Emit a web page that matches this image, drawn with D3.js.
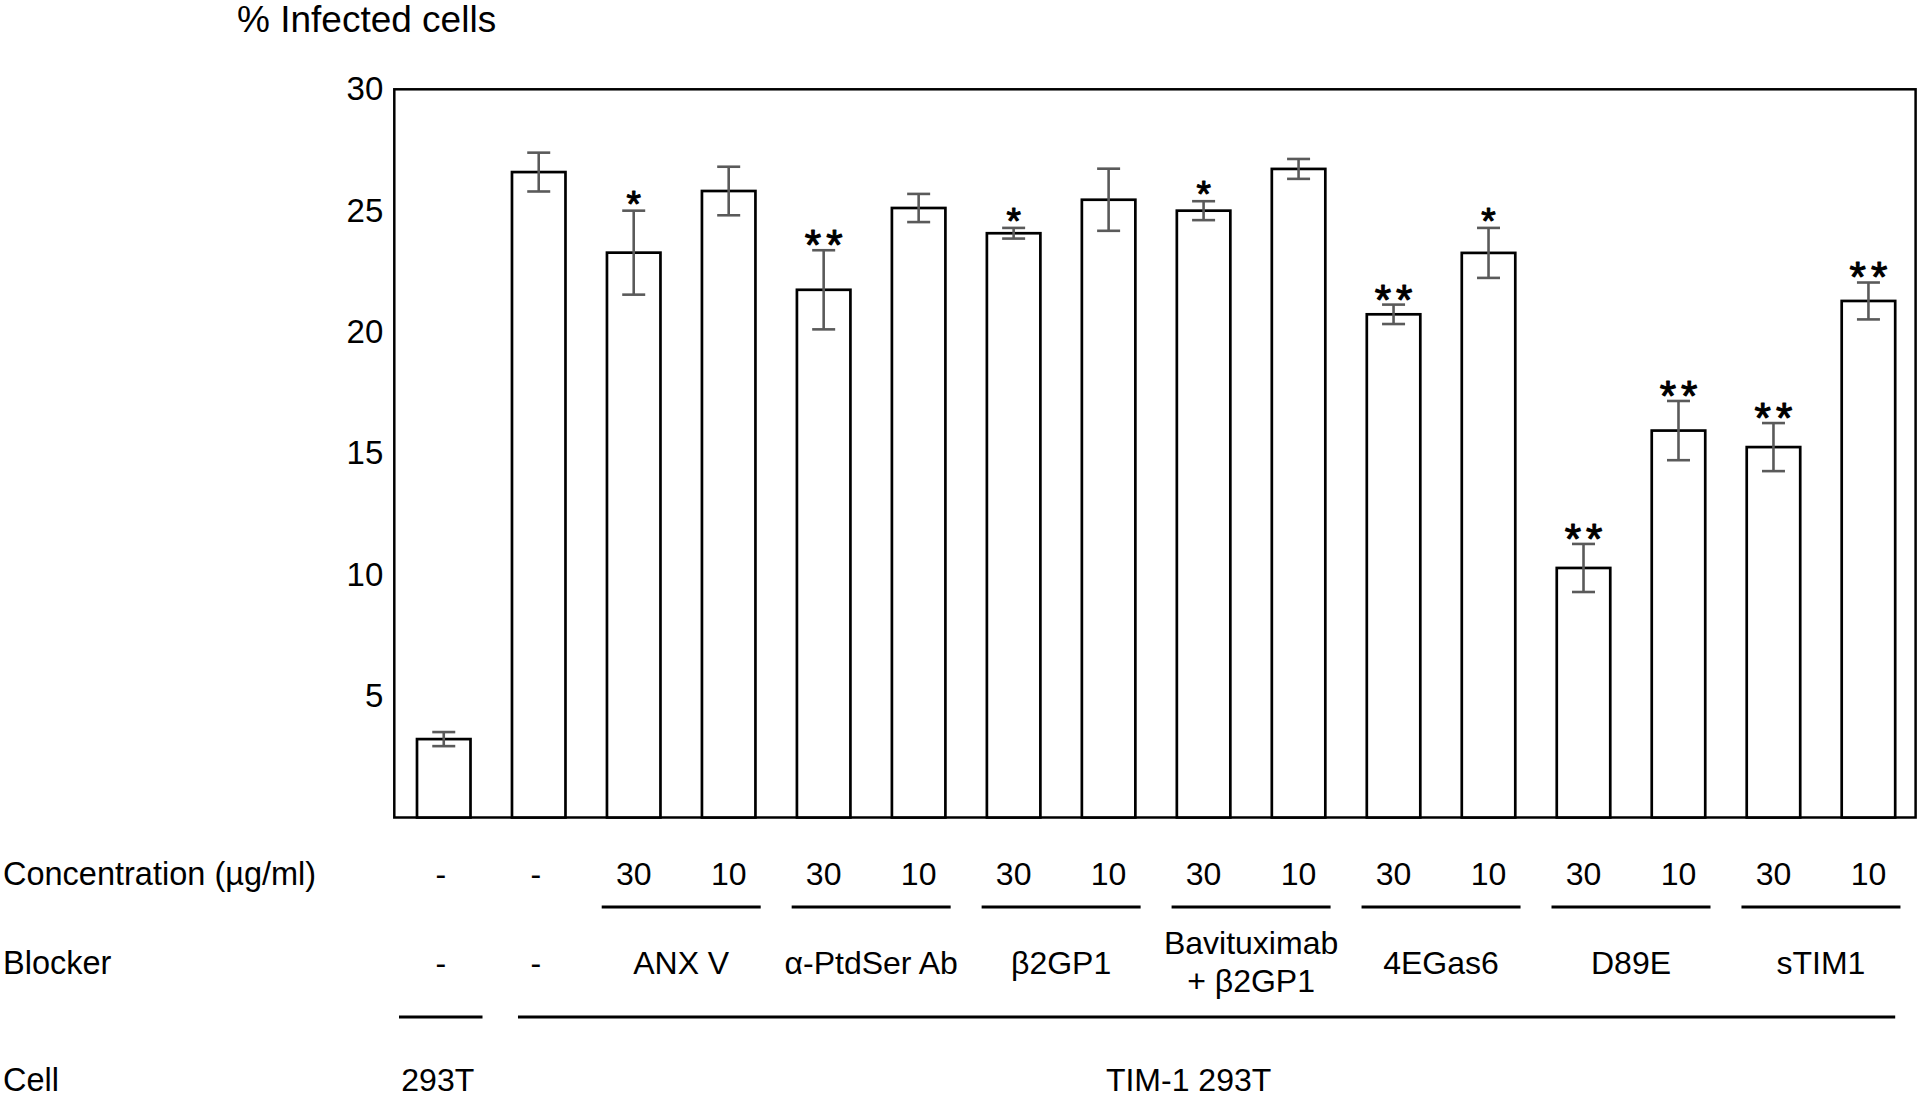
<!DOCTYPE html>
<html>
<head>
<meta charset="utf-8">
<script src="https://cdn.jsdelivr.net/npm/d3@7"></script>
<style>
  html, body { margin: 0; padding: 0; background: #fff; }
  svg { display: block; font-family: "Liberation Sans", Arial, Helvetica, sans-serif; }
</style>
</head>
<body>
<script>
// ---- data ----
const barIds = d3.range(16);
const cellLines = ["293T", "TIM-1 293T", "TIM-1 293T", "TIM-1 293T", "TIM-1 293T", "TIM-1 293T", "TIM-1 293T", "TIM-1 293T",
                   "TIM-1 293T", "TIM-1 293T", "TIM-1 293T", "TIM-1 293T", "TIM-1 293T", "TIM-1 293T", "TIM-1 293T", "TIM-1 293T"];
const blockers = ["-", "-", "ANX V", "ANX V", "α-PtdSer Ab", "α-PtdSer Ab", "β2GP1", "β2GP1",
                  "Bavituximab\n+ β2GP1", "Bavituximab\n+ β2GP1", "4EGas6", "4EGas6", "D89E", "D89E", "sTIM1", "sTIM1"];
const concentrations = ["-", "-", "30", "10", "30", "10", "30", "10", "30", "10", "30", "10", "30", "10", "30", "10"];
const infected = [3.23, 26.59, 23.27, 25.81, 21.74, 25.11, 24.07, 25.45, 25.00, 26.72, 20.73, 23.26, 10.28, 15.94, 15.26, 21.28];
const errors   = [0.29, 0.80, 1.73, 1.00, 1.63, 0.58, 0.22, 1.28, 0.39, 0.41, 0.40, 1.03, 0.99, 1.22, 0.99, 0.76];
const significance = ["", "", "*", "", "**", "", "*", "", "*", "", "**", "*", "**", "**", "**", "**"];
const yTicks = [5, 10, 15, 20, 25, 30];
const yTitle = "% Infected cells";
const rowTitles = ["Concentration (µg/ml)", "Blocker", "Cell"];

// ---- layout ----
const W = 1920, H = 1098;
const frame = { left: 394.3, right: 1915.6 };
const svg = d3.select("body").append("svg").attr("width", W).attr("height", H);

const x = d3.scaleBand().domain(barIds).range([417, 1895.2]).paddingInner(0.4367);
const y = d3.scaleLinear().domain([0, 30]).range([817.5, 89.3]);
const cx = i => x(i) + x.bandwidth() / 2;

// title
svg.append("text").attr("x", 237).attr("y", 32).attr("font-size", 37).attr("fill", "#000").text(yTitle);

// frame
svg.append("rect")
  .attr("x", frame.left).attr("y", y(30))
  .attr("width", frame.right - frame.left).attr("height", y(0) - y(30))
  .attr("fill", "none").attr("stroke", "#000").attr("stroke-width", 2.5);

// y axis labels
const yAxis = svg.append("g").attr("transform", `translate(${frame.left},0)`)
  .call(d3.axisLeft(y).tickValues(yTicks).tickSize(0).tickPadding(11));
yAxis.select(".domain").remove();
yAxis.selectAll("text").attr("font-size", 33).attr("font-family", null).attr("fill", "#000");

// bars
svg.append("g").selectAll("rect").data(barIds).join("rect")
  .attr("x", i => x(i)).attr("y", i => y(infected[i]))
  .attr("width", x.bandwidth()).attr("height", i => y(0) - y(infected[i]))
  .attr("fill", "#fff").attr("stroke", "#000").attr("stroke-width", 2.7);

// error bars
const eb = svg.append("g").attr("stroke", "#5a5a5a").attr("stroke-width", 2.6);
barIds.forEach(i => {
  const top = y(infected[i] + errors[i]), bot = y(infected[i] - errors[i]), c = cx(i), hw = 11.5;
  eb.append("line").attr("x1", c).attr("x2", c).attr("y1", top).attr("y2", bot);
  eb.append("line").attr("x1", c - hw).attr("x2", c + hw).attr("y1", top).attr("y2", top);
  eb.append("line").attr("x1", c - hw).attr("x2", c + hw).attr("y1", bot).attr("y2", bot);
});

// significance stars
barIds.forEach(i => {
  const s = significance[i];
  if (!s) return;
  const top = y(infected[i] + errors[i]);
  const fs = s.length === 2 ? 42 : 37;
  const ls = s.length === 2 ? 5 : 0;
  svg.append("text")
    .attr("x", cx(i) + ls / 2).attr("y", top - 15 + 0.57 * fs)
    .attr("text-anchor", "middle").attr("font-size", fs)
    .attr("letter-spacing", ls).attr("fill", "#000")
    .attr("stroke", "#000").attr("stroke-width", 1.1).attr("stroke-linejoin", "round")
    .text(s);
});

// row titles
const rowBase = [885, 974, 1091];
rowTitles.forEach((t, k) => {
  svg.append("text").attr("x", 3).attr("y", rowBase[k]).attr("font-size", 32.5).attr("fill", "#000").text(t);
});

// concentration labels
svg.append("g").selectAll("text").data(barIds).join("text")
  .attr("x", i => cx(i) - (concentrations[i] === "-" ? 3 : 0)).attr("y", rowBase[0])
  .attr("text-anchor", "middle").attr("font-size", 32).attr("fill", "#000")
  .text(i => concentrations[i]);

// blocker groups
function groupsOf(arr, skipDash) {
  const gs = [];
  arr.forEach((v, i) => {
    const last = gs[gs.length - 1];
    if (last && last.label === v && !(skipDash && v === "-")) last.end = i;
    else gs.push({ label: v, start: i, end: i });
  });
  return gs;
}
const blockerGroups = groupsOf(blockers, true);
blockerGroups.forEach(g => {
  const mid = (cx(g.start) + cx(g.end)) / 2;
  if (g.label === "-") {
    svg.append("text").attr("x", mid - 3).attr("y", rowBase[1]).attr("text-anchor", "middle")
      .attr("font-size", 32).attr("fill", "#000").text("-");
    return;
  }
  // underline for concentration pair
  svg.append("line").attr("x1", mid - 79.5).attr("x2", mid + 79.5).attr("y1", 907).attr("y2", 907)
    .attr("stroke", "#000").attr("stroke-width", 3);
  const lines = g.label.split("\n");
  const t = svg.append("text").attr("text-anchor", "middle").attr("font-size", 32).attr("fill", "#000");
  if (lines.length === 1) {
    t.attr("x", mid).attr("y", rowBase[1]).text(lines[0]);
  } else {
    lines.forEach((ln, k) => {
      t.append("tspan").attr("x", mid).attr("y", 954.3 + k * 37.4).text(ln);
    });
  }
});

// cell groups
const cellGroups = groupsOf(cellLines, false);
cellGroups.forEach((g, k) => {
  const x1 = k === 0 ? x(g.start) - 18 : x(g.start) + 6;
  const x2 = k === 0 ? x(g.end) + x.bandwidth() + 12 : x(g.end) + x.bandwidth();
  svg.append("line").attr("x1", x1).attr("x2", x2).attr("y1", 1017).attr("y2", 1017)
    .attr("stroke", "#000").attr("stroke-width", 3);
  const lx = k === 0 ? (x1 + x2) / 2 - 3 : (cx(g.start) + cx(g.end)) / 2 - 15;
  svg.append("text").attr("x", lx).attr("y", rowBase[2]).attr("text-anchor", "middle")
    .attr("font-size", 32).attr("fill", "#000").text(g.label);
});
</script>
</body>
</html>
